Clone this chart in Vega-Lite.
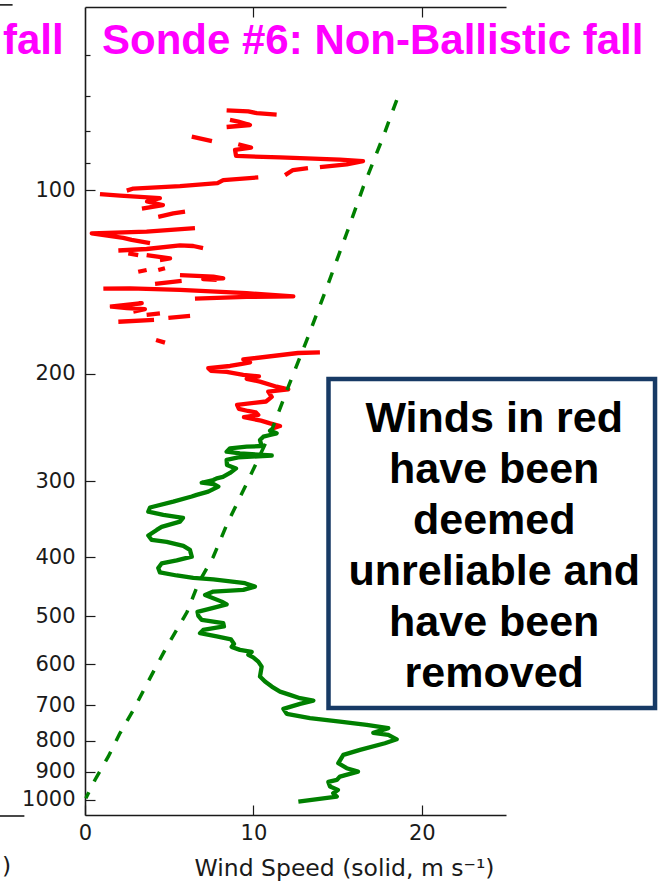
{
  "$schema": "https://vega.github.io/schema/vega-lite/v6.json",
  "width": 421,
  "height": 808,
  "autosize": {"type": "none"},
  "padding": {"left": 85, "top": 7, "right": 154, "bottom": 67},
  "background": "white",
  "config": {"view": {"stroke": null}, "font": "DejaVu Sans"},
  "datasets": {
    "red": [
      {"seg": "A", "speed": 8.41, "p": 73.9}, {"seg": "A", "speed": 9.70, "p": 74.2}, {"seg": "A", "speed": 10.20, "p": 74.7}, {"seg": "A", "speed": 11.38, "p": 75.1},
      {"seg": "B", "speed": 8.61, "p": 76.6}, {"seg": "B", "speed": 9.10, "p": 77.1}, {"seg": "B", "speed": 9.80, "p": 78.1}, {"seg": "B", "speed": 8.41, "p": 78.7},
      {"seg": "C", "speed": 6.34, "p": 81.6}, {"seg": "C", "speed": 7.54, "p": 83.0},
      {"seg": "D", "speed": 9.10, "p": 84.0}, {"seg": "D", "speed": 9.86, "p": 85.1}, {"seg": "D", "speed": 8.91, "p": 85.8}, {"seg": "D", "speed": 8.97, "p": 87.8}, {"seg": "D", "speed": 11.58, "p": 88.3}, {"seg": "D", "speed": 15.14, "p": 89.0}, {"seg": "D", "speed": 16.51, "p": 89.5}, {"seg": "D", "speed": 15.54, "p": 90.6}, {"seg": "D", "speed": 13.95, "p": 91.6},
      {"seg": "E", "speed": 13.24, "p": 91.9}, {"seg": "E", "speed": 12.35, "p": 92.6}, {"seg": "E", "speed": 11.88, "p": 94.4},
      {"seg": "F", "speed": 10.29, "p": 95.2}, {"seg": "F", "speed": 8.21, "p": 96.2}, {"seg": "F", "speed": 7.87, "p": 97.3}, {"seg": "F", "speed": 5.64, "p": 98.4}, {"seg": "F", "speed": 2.87, "p": 99.3}, {"seg": "F", "speed": 2.48, "p": 100.1},
      {"seg": "G", "speed": 0.89, "p": 101.4}, {"seg": "G", "speed": 2.08, "p": 102.0}, {"seg": "G", "speed": 4.45, "p": 103.0}, {"seg": "G", "speed": 3.68, "p": 104.3}, {"seg": "G", "speed": 4.63, "p": 105.7}, {"seg": "G", "speed": 3.38, "p": 107.1},
      {"seg": "H", "speed": 5.94, "p": 108.4}, {"seg": "H", "speed": 5.24, "p": 109.1}, {"seg": "H", "speed": 4.35, "p": 110.5},
      {"seg": "I", "speed": 6.53, "p": 115.3}, {"seg": "I", "speed": 3.66, "p": 116.9}, {"seg": "I", "speed": 0.40, "p": 117.6}, {"seg": "I", "speed": 2.27, "p": 119.7}, {"seg": "I", "speed": 2.77, "p": 120.6}, {"seg": "I", "speed": 3.86, "p": 122.1},
      {"seg": "J", "speed": 1.98, "p": 125.5}, {"seg": "J", "speed": 3.66, "p": 124.8}, {"seg": "J", "speed": 5.64, "p": 123.1}, {"seg": "J", "speed": 6.43, "p": 123.4}, {"seg": "J", "speed": 7.01, "p": 124.4},
      {"seg": "J2", "speed": 2.57, "p": 126.9}, {"seg": "J2", "speed": 3.16, "p": 127.7},
      {"seg": "K", "speed": 3.66, "p": 127.7}, {"seg": "K", "speed": 5.05, "p": 129.3}, {"seg": "K", "speed": 4.45, "p": 130.1},
      {"seg": "L1", "speed": 3.16, "p": 136.0}, {"seg": "L1", "speed": 3.66, "p": 135.1},
      {"seg": "L2", "speed": 4.35, "p": 135.1}, {"seg": "L2", "speed": 4.75, "p": 134.2},
      {"seg": "M", "speed": 5.64, "p": 137.7}, {"seg": "M", "speed": 7.62, "p": 138.5}, {"seg": "M", "speed": 8.21, "p": 139.4}, {"seg": "M", "speed": 7.02, "p": 139.9}, {"seg": "M", "speed": 7.82, "p": 140.3},
      {"seg": "N", "speed": 4.16, "p": 142.4}, {"seg": "N", "speed": 5.74, "p": 140.8},
      {"seg": "O", "speed": 1.09, "p": 145.0}, {"seg": "O", "speed": 2.67, "p": 144.8}, {"seg": "O", "speed": 5.64, "p": 145.7}, {"seg": "O", "speed": 9.60, "p": 147.5}, {"seg": "O", "speed": 12.37, "p": 149.3}, {"seg": "O", "speed": 9.60, "p": 149.6}, {"seg": "O", "speed": 6.53, "p": 150.6},
      {"seg": "P", "speed": 1.48, "p": 155.2}, {"seg": "P", "speed": 3.37, "p": 153.2}, {"seg": "P", "speed": 2.67, "p": 154.2}, {"seg": "P", "speed": 1.59, "p": 155.2}, {"seg": "P", "speed": 2.48, "p": 156.1}, {"seg": "P", "speed": 3.56, "p": 156.7}, {"seg": "P", "speed": 2.87, "p": 158.1},
      {"seg": "Q", "speed": 3.66, "p": 160.1}, {"seg": "Q", "speed": 4.45, "p": 159.2},
      {"seg": "R", "speed": 4.95, "p": 161.9}, {"seg": "R", "speed": 6.24, "p": 160.7},
      {"seg": "S", "speed": 1.98, "p": 164.3}, {"seg": "S", "speed": 4.10, "p": 163.2},
      {"seg": "T", "speed": 4.22, "p": 176.0}, {"seg": "T", "speed": 4.75, "p": 177.8},
      {"seg": "U", "speed": 13.95, "p": 184.5}, {"seg": "U", "speed": 12.65, "p": 184.9}, {"seg": "U", "speed": 9.40, "p": 189.5}, {"seg": "U", "speed": 9.80, "p": 191.6}, {"seg": "U", "speed": 9.32, "p": 192.7}, {"seg": "U", "speed": 8.61, "p": 194.2}, {"seg": "U", "speed": 7.32, "p": 195.8}, {"seg": "U", "speed": 7.48, "p": 197.8}, {"seg": "U", "speed": 8.41, "p": 198.6}, {"seg": "U", "speed": 9.40, "p": 200.9}, {"seg": "U", "speed": 10.33, "p": 202.0}, {"seg": "U", "speed": 9.60, "p": 203.9}, {"seg": "U", "speed": 10.39, "p": 206.0}, {"seg": "U", "speed": 11.38, "p": 210.0}, {"seg": "U", "speed": 12.07, "p": 212.1}, {"seg": "U", "speed": 10.88, "p": 214.0}, {"seg": "U", "speed": 11.09, "p": 218.3}, {"seg": "U", "speed": 10.75, "p": 222.1}, {"seg": "U", "speed": 9.03, "p": 225.0}, {"seg": "U", "speed": 9.14, "p": 228.4}, {"seg": "U", "speed": 9.68, "p": 230.2}, {"seg": "U", "speed": 10.15, "p": 231.5}, {"seg": "U", "speed": 10.29, "p": 233.7}, {"seg": "U", "speed": 9.44, "p": 235.7}, {"seg": "U", "speed": 10.45, "p": 238.7}, {"seg": "U", "speed": 10.99, "p": 241.2}, {"seg": "U", "speed": 11.58, "p": 243.7}, {"seg": "U", "speed": 11.18, "p": 245.8}
    ],
    "green": [
      {"speed": 11.18, "p": 245.8}, {"speed": 10.99, "p": 248.1}, {"speed": 11.38, "p": 250.5}, {"speed": 10.99, "p": 252.1}, {"speed": 10.59, "p": 253.7}, {"speed": 10.39, "p": 256.9}, {"speed": 10.49, "p": 262.8}, {"speed": 9.60, "p": 263.5}, {"speed": 8.61, "p": 265.1}, {"speed": 8.41, "p": 268.5}, {"speed": 9.20, "p": 270.2}, {"speed": 11.09, "p": 272.4}, {"speed": 9.10, "p": 274.4}, {"speed": 8.41, "p": 277.0}, {"speed": 8.43, "p": 282.3}, {"speed": 8.97, "p": 286.0}, {"speed": 8.61, "p": 291.0}, {"speed": 8.19, "p": 295.4}, {"speed": 7.82, "p": 296.9}, {"speed": 7.62, "p": 298.8}, {"speed": 6.93, "p": 301.9}, {"speed": 7.62, "p": 303.4}, {"speed": 7.92, "p": 306.4}, {"speed": 7.32, "p": 312.2}, {"speed": 6.63, "p": 316.1}, {"speed": 6.34, "p": 318.1}, {"speed": 5.24, "p": 324.3}, {"speed": 3.86, "p": 331.5}, {"speed": 3.76, "p": 336.8}, {"speed": 4.65, "p": 341.0}, {"speed": 5.82, "p": 344.9}, {"speed": 5.64, "p": 349.8}, {"speed": 4.55, "p": 356.8}, {"speed": 4.26, "p": 360.9}, {"speed": 3.76, "p": 368.5}, {"speed": 3.96, "p": 374.8}, {"speed": 4.85, "p": 377.6}, {"speed": 5.84, "p": 383.4}, {"speed": 6.23, "p": 389.2}, {"speed": 6.34, "p": 399.2}, {"speed": 5.45, "p": 405.0}, {"speed": 4.55, "p": 409.6}, {"speed": 4.35, "p": 416.6}, {"speed": 4.45, "p": 423.8}, {"speed": 5.45, "p": 428.7}, {"speed": 6.43, "p": 432.7}, {"speed": 7.62, "p": 435.1}, {"speed": 9.50, "p": 441.4}, {"speed": 10.09, "p": 447.1}, {"speed": 9.40, "p": 452.7}, {"speed": 7.62, "p": 455.6}, {"speed": 7.13, "p": 461.3}, {"speed": 8.12, "p": 473.2}, {"speed": 8.41, "p": 478.2}, {"speed": 7.62, "p": 484.5}, {"speed": 6.68, "p": 492.0}, {"speed": 6.73, "p": 499.5}, {"speed": 6.93, "p": 507.1}, {"speed": 8.21, "p": 513.5}, {"speed": 8.25, "p": 519.7}, {"speed": 7.02, "p": 526.6}, {"speed": 6.83, "p": 533.2}, {"speed": 7.82, "p": 539.7}, {"speed": 8.67, "p": 545.8}, {"speed": 8.85, "p": 555.3}, {"speed": 8.71, "p": 561.6}, {"speed": 9.20, "p": 567.9}, {"speed": 9.90, "p": 572.2}, {"speed": 9.70, "p": 578.7}, {"speed": 9.99, "p": 584.2}, {"speed": 10.29, "p": 593.6}, {"speed": 10.49, "p": 604.9}, {"speed": 10.39, "p": 628.2}, {"speed": 10.69, "p": 640.2}, {"speed": 11.09, "p": 652.4}, {"speed": 11.58, "p": 664.9}, {"speed": 12.17, "p": 673.2}, {"speed": 12.77, "p": 681.6}, {"speed": 13.56, "p": 687.8}, {"speed": 12.77, "p": 696.5}, {"speed": 11.78, "p": 709.7}, {"speed": 11.98, "p": 723.4}, {"speed": 13.36, "p": 735.2}, {"speed": 15.14, "p": 744.7}, {"speed": 16.73, "p": 754.0}, {"speed": 18.01, "p": 763.4}, {"speed": 17.12, "p": 777.2}, {"speed": 18.01, "p": 783.1}, {"speed": 18.51, "p": 796.3}, {"speed": 17.81, "p": 808.1}, {"speed": 16.33, "p": 828.8}, {"speed": 15.34, "p": 844.6}, {"speed": 15.04, "p": 871.5}, {"speed": 15.54, "p": 888.1}, {"speed": 16.21, "p": 899.7}, {"speed": 15.14, "p": 916.8}, {"speed": 14.95, "p": 928.3}, {"speed": 14.45, "p": 935.4}, {"speed": 14.55, "p": 952.1}, {"speed": 15.02, "p": 964.0}, {"speed": 14.74, "p": 976.1}, {"speed": 14.95, "p": 988.7}, {"speed": 12.67, "p": 1007.6}
    ],
    "dashed": [
      {"speed": 18.51, "p": 71.1}, {"speed": 17.71, "p": 81.6}, {"speed": 16.53, "p": 98.6}, {"speed": 15.54, "p": 117.6}, {"speed": 14.45, "p": 142.1}, {"speed": 13.17, "p": 176.1}, {"speed": 12.07, "p": 210.1}, {"speed": 11.09, "p": 247.4}, {"speed": 9.70, "p": 298.8}, {"speed": 8.41, "p": 354.3}, {"speed": 7.62, "p": 399.4}, {"speed": 6.73, "p": 441.6}, {"speed": 6.06, "p": 492.2}, {"speed": 4.75, "p": 568.2}, {"speed": 3.86, "p": 631.7}, {"speed": 2.87, "p": 712.8}, {"speed": 2.08, "p": 777.7}, {"speed": 1.38, "p": 850.4}, {"speed": 0.59, "p": 928.6}, {"speed": 0.05, "p": 995}
    ],
    "one": [{}]
  },
  "layer": [
    {
      "data": {"name": "red"},
      "mark": {"type": "line", "color": "#ff0000", "strokeWidth": 4.3, "strokeJoin": "round"},
      "encoding": {
        "x": {"field": "speed", "type": "quantitative", "scale": {"domain": [0, 25], "nice": false, "zero": false}, "axis": null},
        "y": {"field": "p", "type": "quantitative", "scale": {"type": "log", "domain": [50, 1060], "reverse": true, "nice": false},
          "axis": {"orient": "left", "values": [60, 70, 80, 90], "labels": false, "domain": false, "grid": false, "tickSize": -5, "tickWidth": 1.2, "tickColor": "#1a1a1a", "title": null}},
        "detail": {"field": "seg", "type": "nominal"},
        "order": {"value": null}
      }
    },
    {
      "data": {"name": "green"},
      "mark": {"type": "line", "color": "#008000", "strokeWidth": 4.3, "strokeJoin": "round"},
      "encoding": {
        "x": {"field": "speed", "type": "quantitative", "scale": {"domain": [0, 25], "nice": false, "zero": false},
          "axis": {"orient": "bottom", "values": [0, 10, 20], "grid": false, "tickSize": -10, "tickWidth": 1.2, "tickColor": "#1a1a1a", "domainColor": "#1a1a1a", "domainWidth": 1.6, "labelPadding": 17, "labelFont": "DejaVu Sans", "labelFontSize": 21, "labelColor": "#1a1a1a", "labelFlush": false, "labelOverlap": false,
            "title": "Wind Speed (solid, m s⁻¹)", "titleFont": "DejaVu Sans", "titleFontSize": 23.5, "titleFontWeight": "normal", "titleColor": "#1a1a1a", "titleX": 259, "titleY": 60, "titleAlign": "center", "titleBaseline": "alphabetic"}},
        "y": {"field": "p", "type": "quantitative", "scale": {"type": "log", "domain": [50, 1060], "reverse": true, "nice": false},
          "axis": {"orient": "left", "values": [100, 200, 300, 400, 500, 600, 700, 800, 900, 1000], "format": "d", "grid": false,
            "tickSize": -10, "tickWidth": 1.2, "tickColor": "#1a1a1a", "domainColor": "#1a1a1a", "domainWidth": 1.6, "labelPadding": 20, "labelFont": "DejaVu Sans", "labelFontSize": 21, "labelColor": "#1a1a1a", "labelFlush": false, "labelOverlap": false, "title": null}},
        "order": {"value": null}
      }
    },
    {
      "data": {"name": "dashed"},
      "mark": {"type": "line", "color": "#008000", "strokeWidth": 3.5, "strokeDash": [11, 12]},
      "encoding": {
        "x": {"field": "speed", "type": "quantitative", "scale": {"domain": [0, 25], "nice": false, "zero": false},
          "axis": {"orient": "top", "values": [10, 20], "grid": false, "labels": false, "tickSize": -10, "tickWidth": 1.2, "tickColor": "#1a1a1a", "domainColor": "#1a1a1a", "domainWidth": 1.6, "title": null}},
        "y": {"field": "p", "type": "quantitative", "scale": {"type": "log", "domain": [50, 1060], "reverse": true, "nice": false}, "axis": null},
        "order": {"value": null}
      }
    },
    {
      "data": {"name": "one"},
      "mark": {"type": "rect", "fill": "white", "stroke": "#173a65", "strokeWidth": 4.5},
      "encoding": {
        "x": {"datum": 14.46, "type": "quantitative", "scale": {"domain": [0, 25], "nice": false, "zero": false}, "axis": null},
        "x2": {"datum": 33.85},
        "y": {"datum": 204, "type": "quantitative", "scale": {"type": "log", "domain": [50, 1060], "reverse": true, "nice": false}, "axis": null},
        "y2": {"datum": 707.5}
      }
    },
    {
      "data": {"name": "one"},
      "mark": {"type": "text", "text": ["Winds in red", "have been", "deemed", "unreliable and", "have been", "removed"], "font": "Liberation Sans", "fontWeight": "bold", "fontSize": 43, "lineHeight": 51, "align": "center", "baseline": "alphabetic", "color": "black"},
      "encoding": {
        "x": {"datum": 24.3, "type": "quantitative", "scale": {"domain": [0, 25], "nice": false, "zero": false}, "axis": null},
        "y": {"datum": 249, "type": "quantitative", "scale": {"type": "log", "domain": [50, 1060], "reverse": true, "nice": false}, "axis": null}
      }
    },
    {
      "data": {"name": "one"},
      "mark": {"type": "text", "text": "Sonde #6: Non-Ballistic fall", "font": "Liberation Sans", "fontWeight": "bold", "fontSize": 42, "align": "left", "baseline": "alphabetic", "color": "#ff00ff"},
      "encoding": {
        "x": {"datum": 1.01, "type": "quantitative", "scale": {"domain": [0, 25], "nice": false, "zero": false}, "axis": null},
        "y": {"datum": 59.7, "type": "quantitative", "scale": {"type": "log", "domain": [50, 1060], "reverse": true, "nice": false}, "axis": null}
      }
    },
    {
      "data": {"name": "one"},
      "mark": {"type": "text", "text": "fall", "font": "Liberation Sans", "fontWeight": "bold", "fontSize": 42, "align": "left", "baseline": "alphabetic", "color": "#ff00ff"},
      "encoding": {
        "x": {"datum": -4.87, "type": "quantitative", "scale": {"domain": [0, 25], "nice": false, "zero": false}, "axis": null},
        "y": {"datum": 59.7, "type": "quantitative", "scale": {"type": "log", "domain": [50, 1060], "reverse": true, "nice": false}, "axis": null}
      }
    },
    {
      "data": {"name": "one"},
      "mark": {"type": "text", "text": ")", "font": "DejaVu Sans", "fontSize": 23.5, "align": "left", "baseline": "alphabetic", "color": "#1a1a1a"},
      "encoding": {
        "x": {"datum": -4.93, "type": "quantitative", "scale": {"domain": [0, 25], "nice": false, "zero": false}, "axis": null},
        "y": {"datum": 1325, "type": "quantitative", "scale": {"type": "log", "domain": [50, 1060], "reverse": true, "nice": false}, "axis": null}
      }
    },
    {
      "data": {"name": "one"},
      "mark": {"type": "rule", "color": "#1a1a1a", "strokeWidth": 1.6},
      "encoding": {
        "x": {"datum": -5.1, "type": "quantitative", "scale": {"domain": [0, 25], "nice": false, "zero": false}, "axis": null},
        "x2": {"datum": -4.3},
        "y": {"datum": 49.6, "type": "quantitative", "scale": {"type": "log", "domain": [50, 1060], "reverse": true, "nice": false}, "axis": null}
      }
    },
    {
      "data": {"name": "one"},
      "mark": {"type": "rule", "color": "#1a1a1a", "strokeWidth": 1.6},
      "encoding": {
        "x": {"datum": -5.1, "type": "quantitative", "scale": {"domain": [0, 25], "nice": false, "zero": false}, "axis": null},
        "x2": {"datum": -3.6},
        "y": {"datum": 1064, "type": "quantitative", "scale": {"type": "log", "domain": [50, 1060], "reverse": true, "nice": false}, "axis": null}
      }
    }
  ],
  "resolve": {"axis": {"x": "independent", "y": "independent"}}
}
